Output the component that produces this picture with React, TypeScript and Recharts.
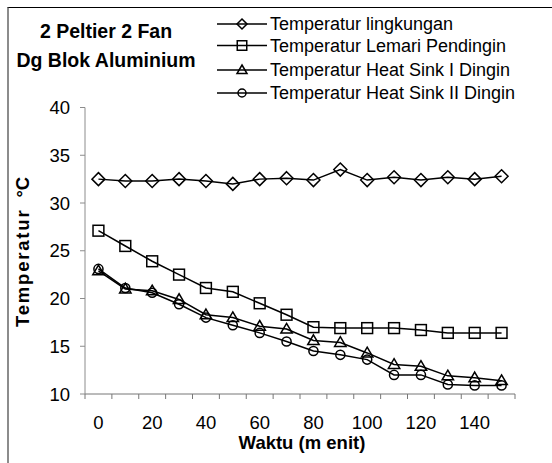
import { LineChart, Line, XAxis, YAxis, Legend, Label } from "recharts";

const FONT = "'Liberation Sans', Arial, sans-serif";

// waktu (menit)
const minutes = [0, 10, 20, 30, 40, 50, 60, 70, 80, 90, 100, 110, 120, 130, 140, 150];
const lingkungan = [32.5, 32.3, 32.3, 32.5, 32.3, 32.0, 32.5, 32.6, 32.4, 33.5, 32.4, 32.7, 32.4, 32.7, 32.5, 32.8];
const lemari = [27.1, 25.5, 23.9, 22.5, 21.1, 20.7, 19.5, 18.3, 17.0, 16.9, 16.9, 16.9, 16.7, 16.4, 16.4, 16.4];
const heatSink1 = [22.9, 21.0, 20.8, 19.9, 18.3, 18.0, 17.1, 16.8, 15.6, 15.4, 14.3, 13.1, 12.9, 11.9, 11.7, 11.4];
const heatSink2 = [23.1, 21.1, 20.6, 19.4, 18.0, 17.2, 16.4, 15.5, 14.5, 14.1, 13.6, 12.0, 12.0, 11.0, 10.9, 10.9];

const yTicks = [10, 15, 20, 25, 30, 35, 40];
const xLabels = [0, 20, 40, 60, 80, 100, 120, 140];
// every 5 minutes: odd ones are category borders, even ones category centres
const xTicks = [-5, 0, 5, 10, 15, 20, 25, 30, 35, 40, 45, 50, 55, 60, 65, 70, 75, 80, 85, 90, 95, 100, 105, 110, 115, 120, 125, 130, 135, 140, 145, 150, 155];

const data = minutes.map((t, i) => ({
  t,
  lingkungan: lingkungan[i],
  lemari: lemari[i],
  hs1: heatSink1[i],
  hs2: heatSink2[i],
}));

type Shape = "diamond" | "square" | "triangle" | "circle";

const series: { key: string; name: string; shape: Shape }[] = [
  { key: "lingkungan", name: "Temperatur lingkungan", shape: "diamond" },
  { key: "lemari", name: "Temperatur Lemari Pendingin", shape: "square" },
  { key: "hs1", name: "Temperatur Heat Sink I Dingin", shape: "triangle" },
  { key: "hs2", name: "Temperatur Heat Sink II Dingin", shape: "circle" },
];

function marker(shape: Shape, cx: number, cy: number, s: number, key?: string) {
  const common = { key, fill: "none", stroke: "#000", strokeWidth: 1.5 };
  if (shape === "diamond") {
    return <path {...common} d={`M${cx},${cy - s} L${cx + s},${cy} L${cx},${cy + s} L${cx - s},${cy} Z`} />;
  }
  if (shape === "square") {
    const h = s * 0.95;
    return <rect {...common} x={cx - h} y={cy - h} width={h * 2} height={h * 2} />;
  }
  if (shape === "triangle") {
    return <path {...common} d={`M${cx},${cy - s} L${cx + s},${cy + s * 0.7} L${cx - s},${cy + s * 0.7} Z`} />;
  }
  return <circle {...common} cx={cx} cy={cy} r={s * 0.8} />;
}

function XTick(props: any) {
  const { x, y, payload } = props;
  const v = payload.value;
  const border = (v + 5) % 10 === 0;
  return (
    <g>
      {border && <line x1={x} x2={x} y1={y} y2={y + 5} stroke="#777" />}
      {xLabels.includes(v) && (
        <text x={x} y={y + 35} textAnchor="middle" fontSize={18.5} fontFamily={FONT} fill="#000">
          {v}
        </text>
      )}
    </g>
  );
}

function LegendBox() {
  const rows = [14, 35.5, 60, 83];
  return (
    <svg width={340} height={100}>
      {series.map((s, i) => (
        <g key={s.key}>
          <line x1={7} x2={57} y1={rows[i]} y2={rows[i]} stroke="#000" strokeWidth={1.5} />
          {marker(s.shape, 32, rows[i], 5)}
          <text x={60} y={rows[i]} dominantBaseline="central" fontSize={18} fontFamily={FONT} fill="#000">
            {s.name}
          </text>
        </g>
      ))}
    </svg>
  );
}

function YTitle() {
  return (
    <text
      x={29}
      y={327}
      transform="rotate(-90, 29, 327)"
      fontSize={18.5}
      fontWeight="bold"
      fontFamily={FONT}
      fill="#000"
      letterSpacing={1.8}
    >
      Temperatur
      <tspan dx={11} letterSpacing={0}>°C</tspan>
    </text>
  );
}

function XTitle() {
  return (
    <text x={302} y={449} textAnchor="middle" fontSize={18.5} fontWeight="bold" fontFamily={FONT} fill="#000">
      Waktu (m enit)
    </text>
  );
}

export default function App() {
  return (
    <div style={{ position: "absolute", left: 0, top: 0, width: 552, height: 463, background: "#fff", overflow: "hidden" }}>
      <div
        style={{
          position: "absolute",
          left: 7,
          top: 7,
          width: 545,
          height: 456,
          borderLeft: "2px solid #8c8c8c",
          borderTop: "1px solid #000",
        }}
      />
      <div
        style={{
          position: "absolute",
          left: 0,
          top: 17,
          width: 212,
          textAlign: "center",
          fontFamily: FONT,
          fontWeight: "bold",
          fontSize: 19.5,
          lineHeight: "29px",
          color: "#000",
        }}
      >
        2 Peltier 2 Fan
        <br />
        Dg Blok Aluminium
      </div>
      <div style={{ position: "absolute", left: 0, top: 0 }}>
        <LineChart width={552} height={463} data={data} margin={{ top: 107.5, right: 37, bottom: 29, left: 0 }}>
          <XAxis
            dataKey="t"
            type="number"
            domain={[-5, 155]}
            ticks={xTicks}
            interval={0}
            tickSize={0}
            tickMargin={0}
            tickLine={false}
            tick={<XTick />}
            height={40}
            axisLine={{ stroke: "#777" }}
          >
            <Label content={<XTitle />} />
          </XAxis>
          <YAxis
            type="number"
            domain={[10, 40]}
            ticks={yTicks}
            interval={0}
            width={85}
            tickSize={5}
            tickMargin={10}
            tick={{ fill: "#000", fontSize: 18.5, fontFamily: FONT }}
            axisLine={{ stroke: "#8c8c8c" }}
            tickLine={{ stroke: "#8c8c8c" }}
          >
            <Label content={<YTitle />} />
          </YAxis>
          <Legend
            layout="horizontal"
            verticalAlign="middle"
            align="center"
            content={<LegendBox />}
            wrapperStyle={{ left: 210, top: 9.5, width: 340, height: 100 }}
          />
          {series.map((s) => (
            <Line
              key={s.key}
              dataKey={s.key}
              name={s.name}
              type="linear"
              stroke="#000"
              strokeWidth={1.5}
              isAnimationActive={false}
              activeDot={false}
              dot={(p: any) => marker(s.shape, p.cx, p.cy, s.shape === "diamond" ? 6.5 : 5.7, `${s.key}-${p.index}`)}
            />
          ))}
        </LineChart>
      </div>
    </div>
  );
}
